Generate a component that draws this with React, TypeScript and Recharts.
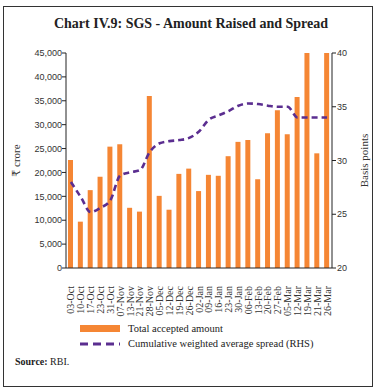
import React from 'react';
import {
  ComposedChart,
  Bar,
  Line,
  XAxis,
  YAxis,
} from 'recharts';

// Auction dates (weekly SGS auctions)
const dates = [
  '03-Oct', '10-Oct', '17-Oct', '23-Oct', '31-Oct', '07-Nov', '13-Nov',
  '21-Nov', '28-Nov', '05-Dec', '12-Dec', '19-Dec', '26-Dec', '02-Jan',
  '09-Jan', '16-Jan', '23-Jan', '30-Jan', '06-Feb', '13-Feb', '20-Feb',
  '27-Feb', '05-Mar', '12-Mar', '19-Mar', '21-Mar', '26-Mar',
];

// Total accepted amount, ₹ crore
const amount = [
  22600, 9700, 16300, 19100, 25400, 25900, 12600, 11800, 36000, 15100,
  12200, 19700, 20800, 16100, 19500, 19300, 23400, 26400, 26800, 18600,
  28200, 33000, 28000, 35800, 45000, 24000, 45000,
];

// Cumulative weighted average spread, basis points (RHS)
const spread = [
  28.0, 26.6, 25.2, 25.6, 26.3, 28.6, 28.9, 29.1, 30.8, 31.6, 31.8, 31.9,
  32.1, 32.7, 33.8, 34.2, 34.6, 35.1, 35.3, 35.25, 35.1, 35.0, 35.0, 34.0,
  34.0, 34.0, 34.0,
];

const leftTicks = [0, 5000, 10000, 15000, 20000, 25000, 30000, 35000, 40000, 45000];
const rightTicks = [20, 25, 30, 35, 40];

const data = dates.map((d, i) => ({ date: d, amount: amount[i], spread: spread[i] }));

const COLORS = {
  bar: '#f58634',
  line: '#5b2e90',
  axis: '#222',
  text: '#333',
};

const SERIF = '"Liberation Serif", "DejaVu Serif", serif';
const SANS = '"Liberation Sans", "DejaVu Sans", sans-serif';

function DateTick(props: any) {
  const { x, y, payload } = props;
  return (
    <text
      x={x}
      y={y + 10}
      transform={`rotate(-90, ${x}, ${y + 10})`}
      textAnchor="end"
      dominantBaseline="central"
      fontFamily={SERIF}
      fontSize={10}
      fill={COLORS.text}
    >
      {payload.value}
    </text>
  );
}

const fmt = (v: number) => v.toLocaleString('en-US');

export default function App() {
  return (
    <div style={{ position: 'absolute', left: 0, top: 0, width: 382, height: 388, background: '#fff' }}>
      <div
        style={{
          position: 'absolute',
          left: 3,
          top: 6,
          width: 368,
          height: 379,
          border: '1px solid #333',
        }}
      />
      <div
        style={{
          position: 'absolute',
          left: 0,
          top: 16,
          width: 382,
          textAlign: 'center',
          fontFamily: SERIF,
          fontWeight: 'bold',
          fontSize: 14,
          color: '#222',
        }}
      >
        Chart IV.9: SGS - Amount Raised and Spread
      </div>
      <div style={{ position: 'absolute', left: 0, top: 0 }}>
        <ComposedChart
          width={382}
          height={388}
          data={data}
          margin={{ top: 53, right: 0, bottom: 70, left: 0 }}
          barCategoryGap="45%"
        >
          <XAxis
            dataKey="date"
            interval={0}
            height={50}
            tick={<DateTick />}
            tickLine={false}
            axisLine={{ stroke: COLORS.axis }}
          />
          <YAxis
            yAxisId="left"
            width={66}
            domain={[0, 45000]}
            ticks={leftTicks}
            interval={0}
            tickFormatter={fmt}
            tickSize={4}
            tickMargin={0}
            tick={{ fill: COLORS.text, fontSize: 9, fontFamily: SANS }}
            tickLine={{ stroke: COLORS.axis }}
            axisLine={{ stroke: COLORS.axis }}
            label={{
              value: '₹ crore',
              angle: -90,
              position: 'insideLeft',
              offset: 16,
              fill: COLORS.text,
              fontSize: 11,
              fontFamily: SERIF,
              style: { textAnchor: 'middle' },
            }}
          />
          <YAxis
            yAxisId="right"
            orientation="right"
            width={50}
            domain={[20, 40]}
            ticks={rightTicks}
            interval={0}
            tickSize={4}
            tickMargin={1}
            tick={{ fill: COLORS.text, fontSize: 9, fontFamily: SANS }}
            tickLine={{ stroke: COLORS.axis }}
            axisLine={{ stroke: COLORS.axis }}
            label={{
              value: 'Basis points',
              angle: -90,
              position: 'insideRight',
              offset: 18,
              fill: COLORS.text,
              fontSize: 11,
              fontFamily: SERIF,
              style: { textAnchor: 'middle' },
            }}
          />
          <Bar
            yAxisId="left"
            dataKey="amount"
            fill={COLORS.bar}
            barSize={5}
            isAnimationActive={false}
          />
          <Line
            yAxisId="right"
            type="monotone"
            dataKey="spread"
            stroke={COLORS.line}
            strokeWidth={2.6}
            strokeDasharray="6 4"
            dot={false}
            activeDot={false}
            isAnimationActive={false}
          />
        </ComposedChart>
      </div>
      {/* legend */}
      <div style={{ position: 'absolute', left: 80, top: 320, fontFamily: SERIF, fontSize: 10.5, color: '#222' }}>
        <div style={{ display: 'flex', alignItems: 'center', height: 16 }}>
          <span style={{ display: 'inline-block', width: 40, height: 7, background: COLORS.bar, marginRight: 8 }} />
          Total accepted amount
        </div>
        <div style={{ display: 'flex', alignItems: 'center', height: 15 }}>
          <svg width={40} height={6} style={{ marginRight: 8 }}>
            <line x1={0} y1={3} x2={40} y2={3} stroke={COLORS.line} strokeWidth={3} strokeDasharray="8 5" />
          </svg>
          Cumulative weighted average spread (RHS)
        </div>
      </div>
      <div style={{ position: 'absolute', left: 15, top: 356, fontFamily: SERIF, fontSize: 10, color: '#222' }}>
        <b>Source:</b> RBI.
      </div>
    </div>
  );
}
